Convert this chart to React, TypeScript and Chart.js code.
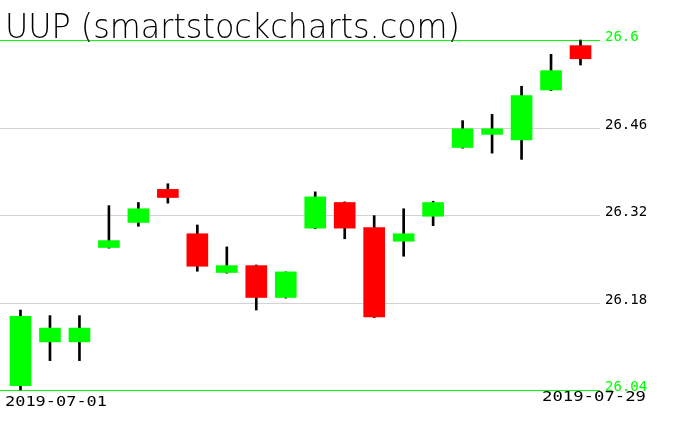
import React, { useEffect, useRef } from 'react';
import { Chart, registerables } from 'chart.js';

Chart.register(...registerables);

const TITLE = 'UUP (smartstockcharts.com)';

const dates = [
  '2019-07-01', '2019-07-02', '2019-07-03', '2019-07-05', '2019-07-08',
  '2019-07-09', '2019-07-10', '2019-07-11', '2019-07-12', '2019-07-15',
  '2019-07-16', '2019-07-17', '2019-07-18', '2019-07-19', '2019-07-22',
  '2019-07-23', '2019-07-24', '2019-07-25', '2019-07-26', '2019-07-29',
];
const opens = [
  26.047, 26.117, 26.117, 26.268, 26.308, 26.361, 26.290, 26.228, 26.239, 26.188,
  26.299, 26.340, 26.300, 26.278, 26.318, 26.428, 26.449, 26.440, 26.520, 26.591,
];
const highs = [
  26.168, 26.159, 26.159, 26.335, 26.340, 26.370, 26.304, 26.269, 26.240, 26.229,
  26.357, 26.341, 26.319, 26.330, 26.342, 26.471, 26.481, 26.526, 26.577, 26.600,
];
const lows = [
  26.040, 26.087, 26.087, 26.267, 26.302, 26.339, 26.230, 26.227, 26.168, 26.187,
  26.298, 26.282, 26.156, 26.254, 26.303, 26.427, 26.419, 26.409, 26.519, 26.560,
];
const closes = [
  26.158, 26.139, 26.139, 26.279, 26.330, 26.348, 26.238, 26.239, 26.188, 26.229,
  26.349, 26.299, 26.157, 26.290, 26.340, 26.458, 26.458, 26.511, 26.551, 26.570,
];
const priceTicks = [26.04, 26.18, 26.32, 26.46, 26.6];
const priceTickLabels = ['26.04', '26.18', '26.32', '26.46', '26.6'];
const dateLabels = ['2019-07-01', '2019-07-29'];

const UP = '#00ff00';
const DOWN = '#ff0000';
const GRID = '#d3d3d3';
const MONO = '"DejaVu Sans Mono", monospace';

function fitText(ctx: CanvasRenderingContext2D, text: string, x: number, baseline: number, width: number, align: 'left' | 'right') {
  const w = ctx.measureText(text).width;
  const s = width / w;
  ctx.save();
  ctx.translate(align === 'right' ? x - width : x, baseline);
  ctx.scale(s, 1);
  ctx.textAlign = 'left';
  ctx.textBaseline = 'alphabetic';
  ctx.fillText(text, 0, 0);
  ctx.restore();
}

const overlay = {
  id: 'overlay',
  beforeDatasetsDraw(chart: any) {
    const ctx: CanvasRenderingContext2D = chart.ctx;
    const ys = chart.scales.y;
    const area = chart.chartArea;
    ctx.save();
    priceTicks.forEach((v, i) => {
      const edge = i === 0 || i === priceTicks.length - 1;
      const py = Math.round(ys.getPixelForValue(v)) + 0.5;
      ctx.strokeStyle = edge ? UP : GRID;
      ctx.lineWidth = 1;
      ctx.beginPath();
      ctx.moveTo(0, py);
      ctx.lineTo(area.right, py);
      ctx.stroke();
    });
    ctx.restore();
  },
  afterDatasetsDraw(chart: any) {
    const ctx: CanvasRenderingContext2D = chart.ctx;
    const ys = chart.scales.y;
    const area = chart.chartArea;
    ctx.save();
    // price labels
    ctx.font = `14px ${MONO}`;
    ctx.textAlign = 'left';
    ctx.textBaseline = 'alphabetic';
    priceTicks.forEach((v, i) => {
      const edge = i === 0 || i === priceTicks.length - 1;
      const py = Math.round(ys.getPixelForValue(v)) + 1;
      ctx.fillStyle = edge ? UP : '#000000';
      ctx.fillText(priceTickLabels[i], area.right + 5, py);
    });
    // date labels
    ctx.fillStyle = '#000000';
    ctx.font = `14px ${MONO}`;
    fitText(ctx, dateLabels[0], area.left + 5, area.bottom + 16, 102, 'left');
    fitText(ctx, dateLabels[1], chart.width - 30, area.bottom + 11, 104, 'right');
    // title
    ctx.font = `200 33px "DejaVu Sans", sans-serif`;
    fitText(ctx, TITLE, 5, 38, 455, 'left');
    ctx.restore();
  },
};

export default function App() {
  const ref = useRef<HTMLCanvasElement>(null);
  useEffect(() => {
    if (!ref.current) return;
    const colors = opens.map((o, i) => (closes[i] >= o ? UP : DOWN));
    const chart = new Chart(ref.current, {
      type: 'bar',
      data: {
        labels: dates,
        datasets: [
          {
            label: 'wick',
            data: dates.map((_, i) => ({ x: i, y: [lows[i], highs[i]] })) as any,
            backgroundColor: '#000000',
            barThickness: 2,
            grouped: false,
            order: 2,
            clip: false as any,
          },
          {
            label: 'body',
            data: dates.map((_, i) => ({ x: i, y: [opens[i], closes[i]] })) as any,
            backgroundColor: colors,
            barThickness: 21,
            grouped: false,
            order: 1,
            clip: false as any,
          },
        ],
      },
      options: {
        animation: false,
        responsive: false,
        devicePixelRatio: 1,
        layout: { padding: { left: 0, right: 76, top: 40, bottom: 41 } },
        plugins: {
          legend: { display: false },
          tooltip: { enabled: false },
          title: { display: false },
        },
        scales: {
          x: { type: 'linear', display: false, offset: false, min: -0.6955, max: 19.6616 },
          y: { type: 'linear', display: false, min: 26.04, max: 26.6 },
        },
      },
      plugins: [overlay],
    });
    return () => chart.destroy();
  }, []);
  return (
    <div style={{ position: 'fixed', left: 0, top: 0, width: 676, height: 431, background: '#fff' }}>
      <canvas ref={ref} width={676} height={431} style={{ width: 676, height: 431 }} />
    </div>
  );
}
